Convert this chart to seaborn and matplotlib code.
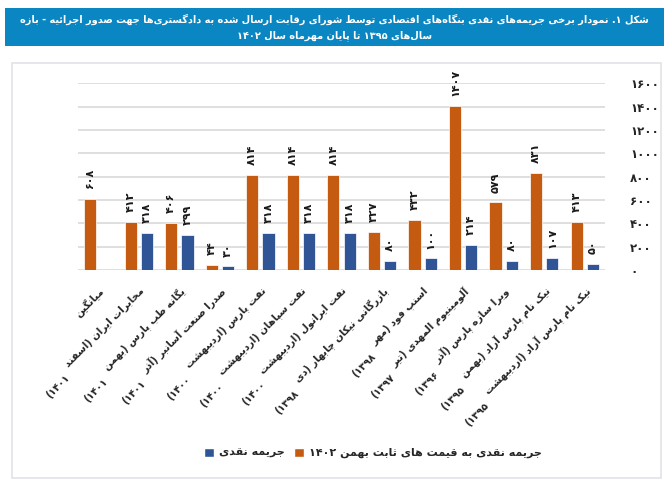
import numpy as np
import pandas as pd
import matplotlib
matplotlib.use("Agg")
import matplotlib.pyplot as plt
import seaborn as sns
from matplotlib.patches import Rectangle, Patch

# Data
categories = [
    "میانگین",
    "مخابرات ایران (اسفند\n۱۴۰۱)",
    "یگانه طب پارس (بهمن\n۱۴۰۱)",
    "صدرا صنعت آسانبر (آذر\n۱۴۰۱)",
    "نفت پارس (اردیبهشت\n۱۴۰۰)",
    "نفت سپاهان (اردیبهشت\n۱۴۰۰)",
    "نفت ایرانول (اردیبهشت\n۱۴۰۰)",
    "بازرگانی نیکان چابهار (دی\n۱۳۹۸)",
    "اسنپ فود (مهر\n۱۳۹۸)",
    "آلومینیوم المهدی (تیر\n۱۳۹۷)",
    "ویرا سازه پارس (آذر\n۱۳۹۶)",
    "نیک نام پارس آراد (بهمن\n۱۳۹۵)",
    "نیک نام پارس آراد (اردیبهشت\n۱۳۹۵)",
]
fine_constant = [608, 412, 406, 44, 814, 814, 814, 327, 432, 1407, 579, 831, 413]
fine_nominal = [np.nan, 318, 299, 30, 318, 318, 318, 80, 100, 214, 80, 107, 50]
series_constant = "جریمه نقدی به قیمت های ثابت بهمن ۱۴۰۲"
series_nominal = "جریمه نقدی"
y_ticks = [0, 200, 400, 600, 800, 1000, 1200, 1400, 1600]
title_lines = [
    "شکل ۱. نمودار برخی جریمه‌های نقدی بنگاه‌های اقتصادی توسط شورای رقابت ارسال شده به دادگستری‌ها جهت صدور اجرائیه - بازه",
    "سال‌های ۱۳۹۵ تا پایان مهرماه سال ۱۴۰۲",
]

ORANGE = "#C55A11"
BLUE = "#2F5597"
TITLE_BG = "#0A86C2"

# --- minimal persian shaping (matplotlib has no bidi / joining) ---
_seq = {
    "ب": 0xFE8F, "ت": 0xFE95, "ث": 0xFE99, "ج": 0xFE9D, "ح": 0xFEA1, "خ": 0xFEA5,
    "س": 0xFEB1, "ش": 0xFEB5, "ص": 0xFEB9, "ض": 0xFEBD, "ط": 0xFEC1, "ظ": 0xFEC5,
    "ع": 0xFEC9, "غ": 0xFECD, "ف": 0xFED1, "ق": 0xFED5, "ل": 0xFEDD, "م": 0xFEE1,
    "ن": 0xFEE5, "ه": 0xFEE9, "ئ": 0xFE89, "ك": 0xFED9, "ي": 0xFEF1,
    "پ": 0xFB56, "چ": 0xFB7A, "ک": 0xFB8E, "گ": 0xFB92, "ی": 0xFBFC,
}
FORMS = {c: tuple(chr(b + k) for k in range(4)) for c, b in _seq.items()}
for c, b in {"ا": 0xFE8D, "آ": 0xFE81, "د": 0xFEA9, "ذ": 0xFEAB, "ر": 0xFEAD,
             "ز": 0xFEAF, "ژ": 0xFB8A, "و": 0xFEED}.items():
    FORMS[c] = (chr(b), chr(b + 1))
LAM_ALEF = {"ا": ("\uFEFB", "\uFEFC"), "آ": ("\uFEF5", "\uFEF6")}
DIGITS = set("0123456789۰۱۲۳۴۵۶۷۸۹")


def to_fa(n):
    return str(n).translate(str.maketrans("0123456789", "۰۱۲۳۴۵۶۷۸۹"))


def shape_line(text):
    out = []
    n = len(text)
    i = 0
    while i < n:
        c = text[i]
        prev = text[i - 1] if i > 0 else ""
        joins_prev = prev in FORMS and len(FORMS[prev]) == 4
        if c == "ل" and i + 1 < n and text[i + 1] in LAM_ALEF:
            out.append(LAM_ALEF[text[i + 1]][1 if joins_prev else 0])
            i += 2
            continue
        if c in FORMS:
            f = FORMS[c]
            nxt = text[i + 1] if i + 1 < n else ""
            joins_next = len(f) == 4 and nxt in FORMS
            if joins_prev and joins_next:
                out.append(f[3])
            elif joins_prev:
                out.append(f[1])
            elif joins_next:
                out.append(f[2])
            else:
                out.append(f[0])
        elif c != "\u200c":
            out.append(c)
        i += 1
    # visual order: reverse, mirror brackets, keep digit runs LTR
    vis = "".join(out)[::-1].translate(str.maketrans("()", ")("))
    res, run = [], []
    for ch in vis:
        if ch in DIGITS:
            run.append(ch)
        else:
            res.extend(run[::-1]); run = []
            res.append(ch)
    res.extend(run[::-1])
    return "".join(res)


def fa(text):
    return "\n".join(shape_line(t) for t in text.split("\n"))


sns.set_theme(style="white")
plt.rcParams["font.family"] = ["DejaVu Sans"]

df = pd.DataFrame({
    "category": categories * 2,
    "series": [series_constant] * len(categories) + [series_nominal] * len(categories),
    "value": fine_constant + fine_nominal,
})

fig = plt.figure(figsize=(6.69, 4.80), dpi=100)
W, H = 669, 480

# title band and chart frame
fig.patches.append(Rectangle((5 / W, 1 - 46 / H), 659 / W, 38 / H, transform=fig.transFigure,
                             facecolor=TITLE_BG, edgecolor="none", zorder=-2))
fig.patches.append(Rectangle((12 / W, 1 - 478 / H), 649 / W, 415 / H, transform=fig.transFigure,
                             facecolor="none", edgecolor="#E2E2E8", linewidth=1.2, zorder=-2))
fig.text(0.5, 1 - 19 / H, fa(title_lines[0]), color="white", fontsize=7.0, fontweight="bold",
         ha="center", va="center")
fig.text(0.5, 1 - 36 / H, fa(title_lines[1]), color="white", fontsize=7.0, fontweight="bold",
         ha="center", va="center")

ax = fig.add_axes([78 / W, 1 - 270 / H, 527 / W, 186.7 / H])
ax.patch.set_alpha(0)
sns.barplot(data=df, x="category", y="value", hue="series", order=categories,
            hue_order=[series_constant, series_nominal],
            palette={series_constant: ORANGE, series_nominal: BLUE}, saturation=1,
            width=0.8, gap=0.25, legend=False, ax=ax, edgecolor="white", linewidth=0.5)

ax.set_ylim(0, 1600)
ax.set_xlim(-0.5, len(categories) - 0.5)
ax.yaxis.tick_right()
ax.set_yticks(y_ticks)
ax.set_yticklabels([to_fa(v) for v in y_ticks], fontsize=8.5, fontweight="bold")
ax.tick_params(axis="both", length=0)
ax.tick_params(axis="y", pad=18)

# x labels: first line as tick label, the year line placed after its end
first_lines = [c.split("\n")[0] for c in categories]
second_lines = [c.split("\n")[1] if "\n" in c else "" for c in categories]
label_kw = dict(rotation=45, ha="right", va="top", rotation_mode="anchor",
                fontsize=7.2, fontweight="bold")
ax.set_xticks(range(len(categories)))
ax.set_xticklabels([fa(c) for c in first_lines], **label_kw)
ax.tick_params(axis="x", pad=11)
ax.set_xlabel("")
ax.set_ylabel("")
ax.grid(axis="y", color="#D9D9D9", linewidth=1.2)
ax.set_axisbelow(True)
for s in ax.spines.values():
    s.set_visible(False)

fig.canvas.draw()
renderer = fig.canvas.get_renderer()
for lab, extra in zip(ax.get_xticklabels(), second_lines):
    if not extra:
        continue
    bb = lab.get_window_extent(renderer)
    fig.text(bb.x0 + 2, bb.y0 - 4, fa(extra), transform=None, **label_kw)

for cont in ax.containers:
    ax.bar_label(cont, fmt=lambda v: "" if np.isnan(v) else to_fa(int(round(v))),
                 rotation=90, padding=7, fontsize=8, fontweight="bold", color="#1A1A1A")

handles = [Patch(facecolor=BLUE), Patch(facecolor=ORANGE)]
fig.legend(handles, [fa(series_nominal), fa(series_constant)], loc="center",
           bbox_to_anchor=(373 / W, 1 - 453 / H), ncol=2, frameon=False,
           prop={"size": 8, "weight": "bold"}, handlelength=0.9, handleheight=0.9,
           handletextpad=0.5, columnspacing=0.8)

fig.savefig("out.png", dpi=100)
